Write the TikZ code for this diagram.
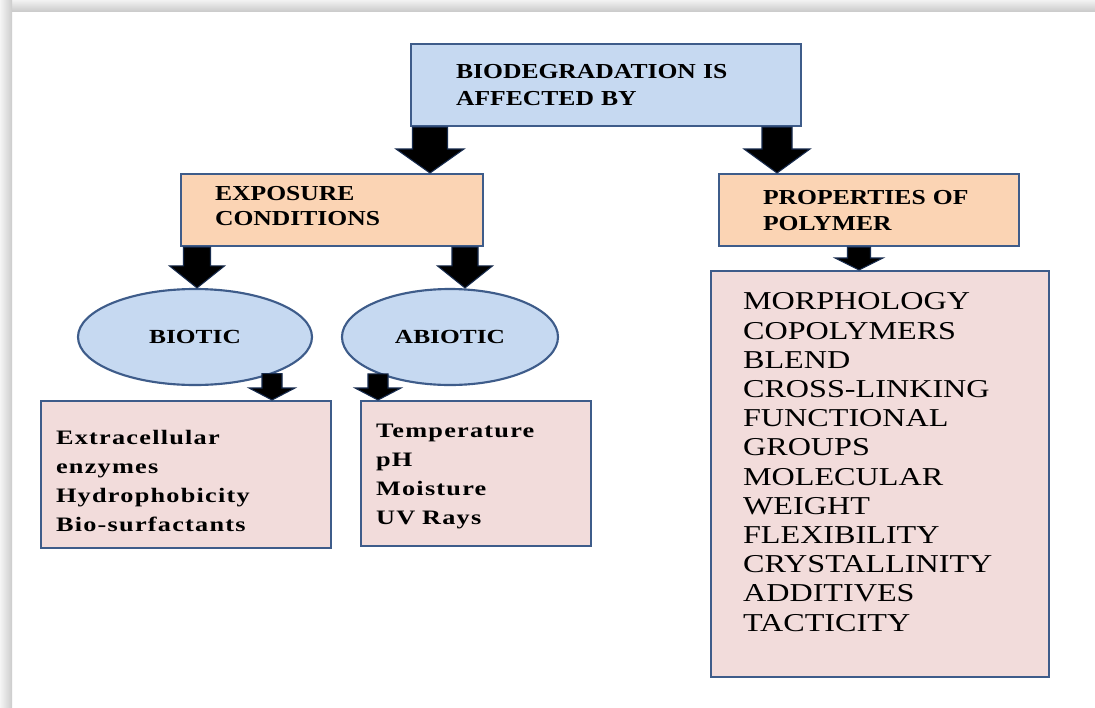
\documentclass[tikz,border=0pt]{standalone}
\usepackage{fontspec}
\setmainfont{Liberation Serif}
\newfontfamily\headfont[FakeStretch=1.2]{Liberation Serif}
\newfontfamily\ovalfont[FakeStretch=1.27]{Liberation Serif}
\newfontfamily\itemfont[FakeStretch=1.28,LetterSpace=6]{Liberation Serif}
\newfontfamily\listfont[FakeStretch=1.25]{Liberation Serif}
\usepackage{tikz}
\usetikzlibrary{calc,shapes.geometric}

\definecolor{skyfill}{RGB}{198,217,241}
\definecolor{peachfill}{RGB}{251,212,180}
\definecolor{rosefill}{RGB}{242,220,219}
\definecolor{edgeblue}{RGB}{62,92,138}
\definecolor{navyedge}{RGB}{23,43,77}

% block arrow: from, to, shaft half width, head half width, head length
\newcommand{\fatarrow}[5]{%
  \path #1 coordinate (fa-s) #2 coordinate (fa-e);
  \filldraw[fatarrow] ($(fa-s)+(-#3,0)$) -- ($(fa-s)+(#3,0)$) -- ($(fa-e)+(#3,-#5)$)
    -- ($(fa-e)+(#4,-#5)$) -- (fa-e) -- ($(fa-e)+(-#4,-#5)$) -- ($(fa-e)+(-#3,-#5)$) -- cycle;}

\begin{document}
\begin{tikzpicture}[x=0.75pt,y=-0.75pt,
  box/.style={draw=edgeblue,line width=1.6pt,rectangle,align=left,anchor=north west,inner ysep=0pt},
  headbox/.style={box,font=\headfont\bfseries\fontsize{16}{20.25}\selectfont},
  itembox/.style={box,fill=rosefill,inner xsep=11.25pt,font=\itemfont\bfseries\fontsize{15.4}{21.75}\selectfont},
  oval/.style={ellipse,draw=edgeblue,line width=1.6pt,fill=skyfill,inner sep=0pt,minimum height=72pt,
    font=\ovalfont\bfseries\fontsize{15}{18}\selectfont},
  fatarrow/.style={fill=black,draw=navyedge,line width=0.8pt,line join=miter}]
\useasboundingbox (0,0) rectangle (1095,707);
\fill[white] (0,0) rectangle (1095,707);
\shade[top color=gray!10,bottom color=gray!40] (0,0) rectangle (1095,11);
\shade[left color=gray!8,right color=gray!40] (0,0) rectangle (12,707);

\node[headbox,fill=skyfill,inner xsep=33.75pt,text width=225pt,minimum height=61.5pt] (top) at (410,43)
  {BIODEGRADATION IS\\AFFECTED BY};
\node[headbox,fill=peachfill,inner xsep=25.5pt,text width=175.5pt,minimum height=54pt,text depth=25pt,
  font=\headfont\bfseries\fontsize{16}{18.5}\selectfont] (expo) at (180,173)
  {EXPOSURE\\CONDITIONS};
\node[headbox,fill=peachfill,inner xsep=33pt,text width=159pt,minimum height=54pt,
  font=\headfont\bfseries\fontsize{16}{19.5}\selectfont] (prop) at (718,173)
  {PROPERTIES~OF\\POLYMER};

\node[oval,minimum width=175.5pt] (biotic) at (195,337) {BIOTIC};
\node[oval,minimum width=162pt] (abiotic) at (450,337) {ABIOTIC};

\node[itembox,text width=195pt,minimum height=110.25pt,text depth=56pt] (bioticlist) at (40,400)
  {Extracellular\\enzymes\\Hydrophobicity\\Bio-surfactants};
\node[itembox,text width=150pt,minimum height=108.75pt,text depth=64pt] (abioticlist) at (360,400)
  {Temperature\\pH\\Moisture\\UV~Rays};
\node[box,fill=rosefill,inner xsep=24pt,text width=205.5pt,minimum height=304.5pt,text depth=259pt,
  font=\listfont\fontsize{19.3}{21.9}\selectfont] (proplist) at (710,270)
  {MORPHOLOGY\\COPOLYMERS\\BLEND\\CROSS-LINKING\\FUNCTIONAL\\GROUPS\\MOLECULAR\\WEIGHT\\FLEXIBILITY\\CRYSTALLINITY\\ADDITIVES\\TACTICITY};

\fatarrow{(430,0 |- top.south)}{(430,0 |- expo.north)}{17.5}{34}{24}
\fatarrow{(777,0 |- top.south)}{(777,0 |- prop.north)}{15}{33}{24}
\fatarrow{(197,0 |- expo.south)}{(197,0 |- biotic.north)}{13.5}{27.5}{22}
\fatarrow{(465,0 |- expo.south)}{(465,0 |- abiotic.north)}{13}{27.5}{22}
\fatarrow{(272,0 |- biotic.-25)}{(272,0 |- bioticlist.north)}{10}{23}{12}
\fatarrow{(378,0 |- abiotic.-153)}{(378,0 |- abioticlist.north)}{10}{23}{12}
\fatarrow{(859,0 |- prop.south)}{(859,0 |- proplist.north)}{11.5}{24}{12}
\end{tikzpicture}
\end{document}
